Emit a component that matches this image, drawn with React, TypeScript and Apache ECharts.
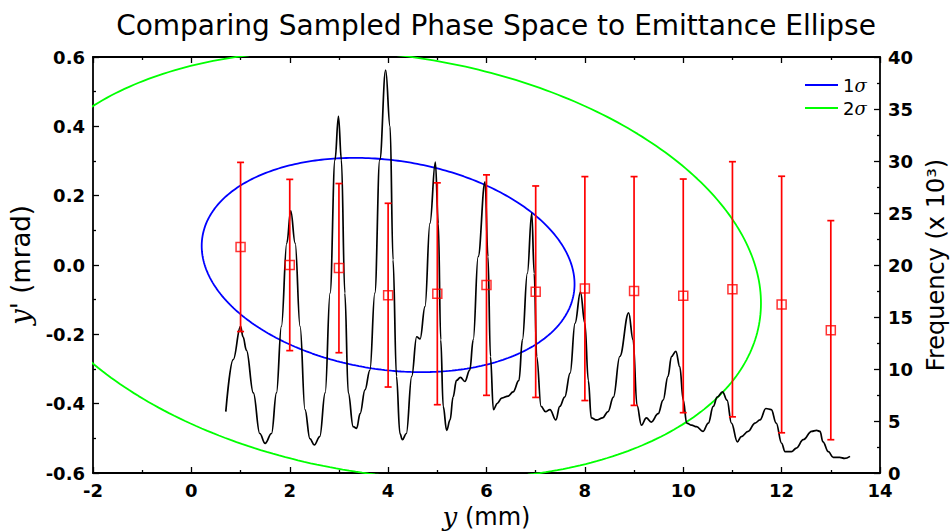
import React, { useEffect, useRef } from "react";
import * as echarts from "echarts";

// Histogram of sampled positions (right axis, frequency x 10^3)
const histX = [0.70, 0.85, 1.00, 1.05, 1.12, 1.26, 1.39, 1.50, 1.63, 1.73, 1.83, 1.94, 2.02, 2.11, 2.21, 2.31, 2.41, 2.50, 2.61, 2.72, 2.82, 2.92, 2.99, 3.05, 3.12, 3.19, 3.29, 3.36, 3.43, 3.53, 3.63, 3.73, 3.83, 3.95, 4.04, 4.10, 4.17, 4.24, 4.29, 4.37, 4.48, 4.58, 4.65, 4.75, 4.85, 4.96, 5.02, 5.07, 5.12, 5.19, 5.26, 5.32, 5.39, 5.47, 5.56, 5.66, 5.73, 5.83, 5.97, 6.03, 6.08, 6.14, 6.22, 6.31, 6.44, 6.54, 6.66, 6.73, 6.83, 6.92, 6.97, 7.02, 7.11, 7.20, 7.29, 7.41, 7.49, 7.59, 7.70, 7.80, 7.91, 8.00, 8.07, 8.13, 8.24, 8.36, 8.47, 8.58, 8.71, 8.89, 8.98, 9.06, 9.15, 9.25, 9.35, 9.49, 9.59, 9.69, 9.76, 9.85, 9.93, 10.00, 10.07, 10.17, 10.27, 10.40, 10.51, 10.61, 10.69, 10.80, 10.89, 10.98, 11.10, 11.18, 11.32, 11.46, 11.56, 11.68, 11.79, 11.89, 12.00, 12.07, 12.20, 12.30, 12.44, 12.61, 12.71, 12.78, 12.84, 12.95, 13.05, 13.18, 13.28, 13.39];
const histFreq = [5.9, 10.9, 14.1, 13.1, 11.8, 7.7, 3.8, 2.85, 3.8, 7.7, 14.1, 22.1, 25.2, 22.1, 14.1, 6.1, 3.3, 2.7, 3.5, 7.7, 17.3, 30.1, 34.3, 30.1, 17.3, 7.7, 4.45, 4.3, 5.7, 8.0, 9.9, 17.3, 30.1, 38.75, 33.3, 20.5, 9.3, 3.8, 3.2, 3.8, 9.3, 13.1, 12.9, 16.0, 24.0, 29.9, 24.0, 12.8, 6.4, 4.1, 5.1, 7.3, 8.9, 9.2, 8.8, 9.9, 12.8, 20.8, 28.0, 20.8, 11.2, 6.1, 6.7, 7.2, 7.4, 7.8, 8.9, 12.8, 19.2, 25.0, 19.2, 11.2, 6.4, 5.9, 6.1, 5.1, 6.4, 7.3, 9.6, 14.4, 17.4, 14.4, 8.9, 5.3, 5.1, 5.3, 5.9, 7.3, 11.2, 15.4, 12.8, 6.5, 4.6, 5.3, 4.9, 5.7, 7.0, 9.3, 11.2, 11.7, 10.2, 7.0, 4.8, 4.6, 4.45, 4.0, 4.8, 6.4, 7.3, 7.8, 7.0, 4.8, 3.0, 3.5, 4.0, 4.8, 5.1, 6.2, 6.1, 4.8, 2.85, 2.05, 2.05, 2.4, 3.2, 4.0, 4.1, 4.0, 3.0, 2.05, 1.5, 1.5, 1.4, 1.6];

// Sampled phase space: mean y' and spread per position bin
const binX = [1, 2, 3, 4, 5, 6, 7, 8, 9, 10, 11, 12, 13];
const binMean = [0.052, 0.0, -0.009, -0.087, -0.083, -0.058, -0.077, -0.068, -0.075, -0.089, -0.070, -0.114, -0.188];
const binErr = [0.244, 0.247, 0.244, 0.265, 0.320, 0.318, 0.305, 0.323, 0.330, 0.337, 0.368, 0.370, 0.316];

// Emittance ellipse parameters (1 sigma)
const ELL_CX = 4.0;
const ELL_CY = 0.0;
const ELL_AX = 3.79;
const ELL_AY = 0.309;
const ELL_PHASE = 1.75;
const sigmaLevels = [1, 2];
const sigmaNames = ["1σ", "2σ"];
const sigmaColors = ["#0000ff", "#00ff00"];

function ellipse(k: number): number[][] {
  const pts: number[][] = [];
  const n = 360;
  for (let i = 0; i <= n; i++) {
    const t = (2 * Math.PI * i) / n;
    pts.push([ELL_CX + k * ELL_AX * Math.cos(t), ELL_CY + k * ELL_AY * Math.cos(t + ELL_PHASE)]);
  }
  return pts;
}

const FONT = "DejaVu Sans";

export default function App() {
  const ref = useRef<HTMLDivElement>(null);
  useEffect(() => {
    if (!ref.current) return;
    const chart = echarts.init(ref.current, undefined, { renderer: "svg" });
    const tickStyle = { show: true, inside: true, length: 6, lineStyle: { color: "#000", width: 1.3 } };
    const minorStyle = { show: true, splitNumber: 2, length: 3, lineStyle: { color: "#000", width: 1.3 } };
    const axisLine = { show: true, onZero: false, lineStyle: { color: "#000", width: 1.8 } };
    const labelStyle = { color: "#000", fontFamily: FONT, fontSize: 18, fontWeight: "bold", margin: 8 };

    const ellipseSeries = sigmaLevels.map((k, i) => ({
      name: sigmaNames[i],
      type: "line",
      xAxisIndex: 0,
      yAxisIndex: 0,
      data: ellipse(k),
      showSymbol: false,
      symbol: "none",
      clip: true,
      lineStyle: { color: sigmaColors[i], width: 1.8 },
      itemStyle: { color: sigmaColors[i] },
      z: 2,
    }));

    chart.setOption({
      animation: false,
      backgroundColor: "#fff",
      title: {
        text: "Comparing Sampled Phase Space to Emittance Ellipse",
        left: 491,
        textAlign: "center",
        top: 6,
        textStyle: { fontFamily: FONT, fontSize: 28, fontWeight: "normal", color: "#000" },
      },
      legend: {
        orient: "vertical",
        left: 800,
        top: 71,
        itemWidth: 33,
        itemHeight: 2,
        itemGap: 5,
        icon: "rect",
        data: sigmaNames,
        formatter: (name: string) => `{n|${name.charAt(0)}}{s|${name.slice(1)}}`,
        textStyle: {
          color: "#000",
          fontSize: 18,
          rich: {
            n: { fontFamily: FONT, fontSize: 18, color: "#000" },
            s: { fontFamily: "DejaVu Serif", fontStyle: "italic", fontSize: 18, color: "#000" },
          },
        },
      },
      grid: { left: 93, right: 71, top: 57, bottom: 58, containLabel: false, outerBoundsMode: "none" },
      xAxis: [
        {
          type: "value",
          min: -2,
          max: 14,
          interval: 2,
          position: "bottom",
          name: "{i|y} (mm)",
          nameLocation: "middle",
          nameGap: 24,
          nameTextStyle: {
            fontFamily: FONT,
            fontSize: 24,
            color: "#000",
            lineHeight: 26,
            rich: { i: { fontFamily: "DejaVu Serif", fontStyle: "italic", fontSize: 26, color: "#000", lineHeight: 26 } },
          },
          axisLine,
          axisTick: tickStyle,
          minorTick: minorStyle,
          splitLine: { show: false },
          axisLabel: labelStyle,
        },
        {
          type: "value",
          min: -2,
          max: 14,
          interval: 2,
          position: "top",
          axisLine,
          axisTick: tickStyle,
          minorTick: minorStyle,
          splitLine: { show: false },
          axisLabel: { show: false },
        },
      ],
      yAxis: [
        {
          type: "value",
          min: -0.6,
          max: 0.6,
          interval: 0.2,
          position: "left",
          name: "{i|y}' (mrad)",
          nameLocation: "middle",
          nameGap: 52,
          nameTextStyle: {
            fontFamily: FONT,
            fontSize: 26,
            color: "#000",
            rich: { i: { fontFamily: "DejaVu Serif", fontStyle: "italic", fontSize: 28, color: "#000" } },
          },
          axisLine,
          axisTick: tickStyle,
          minorTick: minorStyle,
          splitLine: { show: false },
          axisLabel: { ...labelStyle, formatter: (v: number) => v.toFixed(1) },
        },
        {
          type: "value",
          min: 0,
          max: 40,
          interval: 5,
          position: "right",
          name: "Frequency (x 10³)",
          nameLocation: "middle",
          nameGap: 34,
          nameTextStyle: { fontFamily: FONT, fontSize: 24, color: "#000" },
          axisLine,
          axisTick: tickStyle,
          minorTick: minorStyle,
          splitLine: { show: false },
          axisLabel: labelStyle,
        },
      ],
      series: [
        {
          name: "Frequency",
          type: "line",
          xAxisIndex: 0,
          yAxisIndex: 1,
          data: histX.map((x, i) => [x, histFreq[i]]),
          showSymbol: false,
          symbol: "none",
          smooth: 0.4,
          smoothMonotone: "x",
          lineStyle: { color: "#000", width: 1.7 },
          itemStyle: { color: "#000" },
          z: 3,
        },
        ...ellipseSeries,
        {
          name: "spread",
          type: "custom",
          xAxisIndex: 0,
          yAxisIndex: 0,
          data: binX.map((x, i) => [x, binMean[i], binErr[i]]),
          encode: { x: 0, y: 1 },
          renderItem: (params: any, api: any) => {
            const x = api.value(0);
            const c = api.value(1);
            const e = api.value(2);
            const top = api.coord([x, c + e]);
            const bot = api.coord([x, c - e]);
            const hw = 3.5;
            const style = { stroke: "#ff0000", lineWidth: 1.7 };
            return {
              type: "group",
              children: [
                { type: "line", shape: { x1: top[0], y1: top[1], x2: bot[0], y2: bot[1] }, style },
                { type: "line", shape: { x1: top[0] - hw, y1: top[1], x2: top[0] + hw, y2: top[1] }, style },
                { type: "line", shape: { x1: bot[0] - hw, y1: bot[1], x2: bot[0] + hw, y2: bot[1] }, style },
              ],
            };
          },
          z: 4,
        },
        {
          name: "mean",
          type: "scatter",
          xAxisIndex: 0,
          yAxisIndex: 0,
          data: binX.map((x, i) => [x, binMean[i]]),
          symbol: "rect",
          symbolSize: 9,
          itemStyle: { color: "rgba(0,0,0,0)", borderColor: "#ff0000", borderWidth: 1.5 },
          z: 5,
        },
      ],
    });
    return () => chart.dispose();
  }, []);
  return (
    <div
      ref={ref}
      style={{ position: "fixed", left: 0, top: 0, width: 951, height: 531, background: "#fff" }}
    />
  );
}
